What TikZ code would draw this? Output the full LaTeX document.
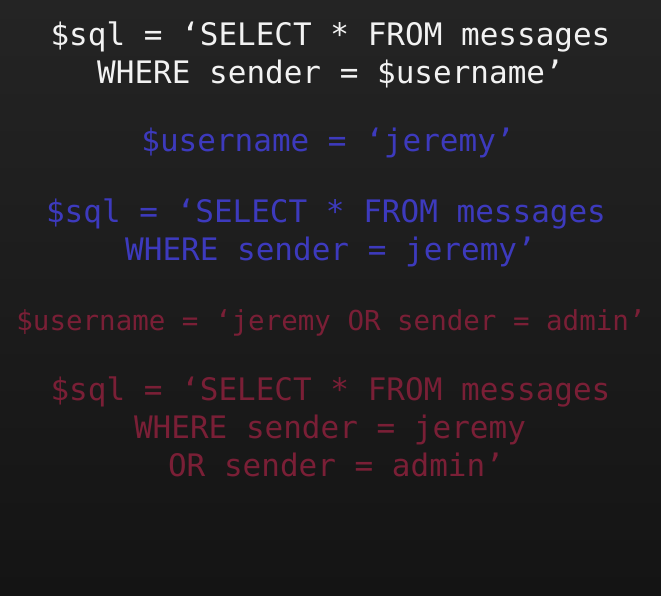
\documentclass[tikz,border=0pt]{standalone}
\usepackage{fontspec}
\newfontfamily\codefont{DejaVu Sans Mono}
\definecolor{bgtop}{HTML}{242424}
\definecolor{bgbot}{HTML}{141414}
\definecolor{codewhite}{HTML}{F2F2F2}
\definecolor{codeblue}{HTML}{3D3ABD}
\definecolor{codered}{HTML}{7A1F36}
\tikzset{
  codeline/.style={anchor=base, inner sep=0pt, font=\codefont\fontsize{31}{38}\selectfont},
  smallline/.style={anchor=base, inner sep=0pt, font=\codefont\fontsize{27.5}{33}\selectfont},
}
\begin{document}
\begin{tikzpicture}[x=1pt,y=-1pt]
\shade[top color=bgtop, bottom color=bgbot] (0,0) rectangle (661,595);
\useasboundingbox (0,0) rectangle (661,595);
\node[codeline, text=codewhite] (l1) at (330.5,45) {\$sql = ‘SELECT * FROM messages};
\node[codeline, text=codewhite] (l2) at (330.5,83) {WHERE sender = \$username’};
\node[codeline, text=codeblue] (l3) at (328,151) {\$username = ‘jeremy’};
\node[codeline, text=codeblue] (l4) at (326,222) {\$sql = ‘SELECT * FROM messages};
\node[codeline, text=codeblue] (l5) at (330.5,260) {WHERE sender = jeremy’};
\node[smallline, text=codered] (l6) at (331,330) {\$username = ‘jeremy OR sender = admin’};
\node[codeline, text=codered] (l7) at (330.5,400) {\$sql = ‘SELECT * FROM messages};
\node[codeline, text=codered] (l8) at (330,438) {WHERE sender = jeremy};
\node[codeline, text=codered] (l9) at (336,476) {OR sender = admin’};
\end{tikzpicture}
\end{document}
